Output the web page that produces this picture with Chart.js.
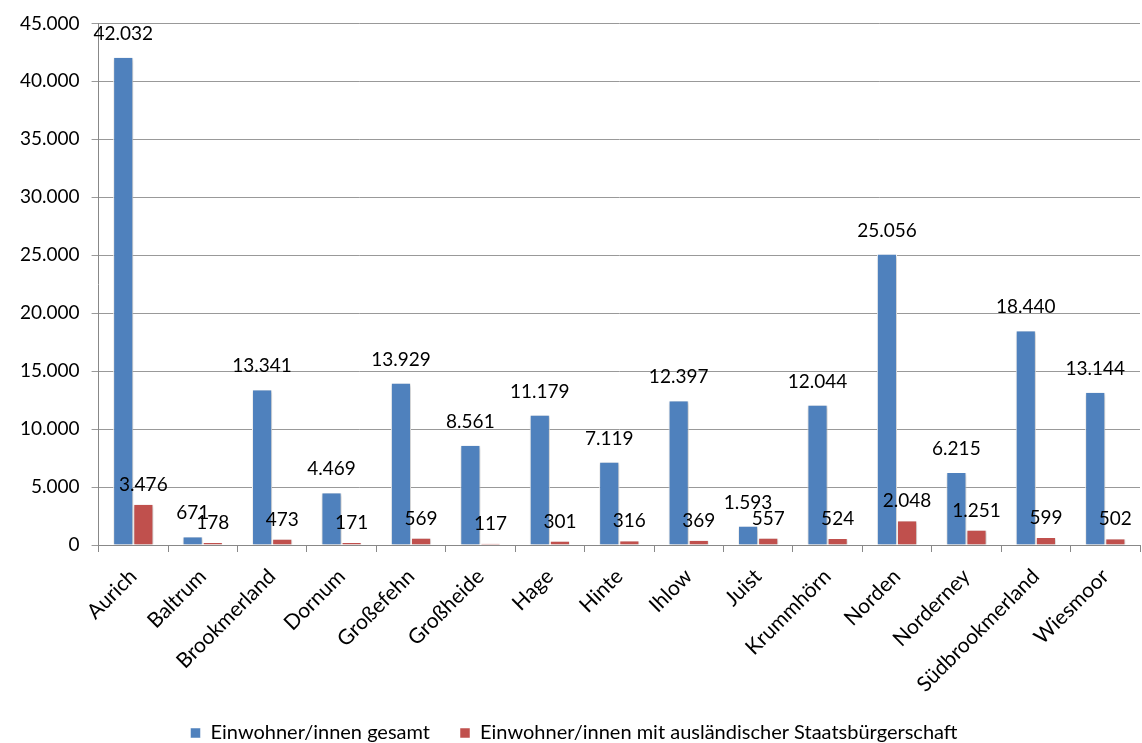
<!DOCTYPE html>
<html><head><meta charset="utf-8">
<script src="https://cdn.jsdelivr.net/npm/chart.js@4/dist/chart.umd.min.js"></script>
<style>html,body{margin:0;padding:0;background:#fff}#wrap{width:1142px;height:743px}</style>
</head><body><div id="wrap"><canvas id="c"></canvas></div>
<script>
const categories = ["Aurich","Baltrum","Brookmerland","Dornum","Großefehn","Großheide","Hage","Hinte","Ihlow","Juist","Krummhörn","Norden","Norderney","Südbrookmerland","Wiesmoor"];
const gesamt = [42032,671,13341,4469,13929,8561,11179,7119,12397,1593,12044,25056,6215,18440,13144];
const auslaendisch = [3476,178,473,171,569,117,301,316,369,557,524,2048,1251,599,502];
const yTicks = [0,5000,10000,15000,20000,25000,30000,35000,40000,45000];
const seriesNames = ["Einwohner/innen gesamt","Einwohner/innen mit ausländischer Staatsbürgerschaft"];

const FONT = "Lato, 'Open Sans', sans-serif";
function de(n){return String(n).replace(/\B(?=(\d{3})+(?!\d))/g,'.');}

const shadowPlugin = {
  id:'shadow',
  beforeDatasetsDraw(chart){const c=chart.ctx;c.save();c.shadowColor='rgba(0,0,0,0.28)';c.shadowBlur=4;c.shadowOffsetX=1;c.shadowOffsetY=1;},
  afterDatasetsDraw(chart){chart.ctx.restore();}
};
const labelPlugin = {
  id:'vlabels',
  afterDatasetsDraw(chart){
    const c=chart.ctx;c.save();
    c.font="19px "+FONT;c.fillStyle='#000';c.textAlign='center';c.textBaseline='middle';
    chart.data.datasets.forEach((ds,i)=>{
      const meta=chart.getDatasetMeta(i);
      const off = i===0?24:20;
      meta.data.forEach((bar,j)=>{c.fillText(de(ds.data[j]),bar.x,bar.y-off);});
    });
    c.restore();
  }
};

new Chart(document.getElementById('c'),{
  type:'bar',
  data:{labels:categories,datasets:[
    {label:seriesNames[0],data:gesamt,backgroundColor:'#4F81BD',borderColor:'#ffffff',borderWidth:{left:1,right:1,top:0,bottom:0},barPercentage:1,categoryPercentage:0.58},
    {label:seriesNames[1],data:auslaendisch,backgroundColor:'#C0504D',borderColor:'#ffffff',borderWidth:{left:1,right:1,top:0,bottom:0},barPercentage:1,categoryPercentage:0.58}
  ]},
  options:{
    responsive:true,maintainAspectRatio:false,animation:false,
    layout:{padding:{left:8,right:2,top:4,bottom:-10}},
    plugins:{
      legend:{position:'bottom',labels:{font:{family:FONT,size:20},color:'#000',boxWidth:10,boxHeight:10,padding:30,useBorderRadius:false}},
      tooltip:{enabled:false}
    },
    scales:{
      x:{afterFit(s){s.height=148;},
         grid:{display:true,drawOnChartArea:false,drawTicks:true,tickLength:7,color:'#888',offset:true},
         border:{color:'#888'},
         ticks:{font:{family:FONT,size:21},color:'#000',maxRotation:45,minRotation:45,padding:12}},
      y:{min:0,max:45000,afterBuildTicks(s){s.ticks=yTicks.map(v=>({value:v}));},
         grid:{color:'#999',drawTicks:true,tickLength:7},border:{color:'#888'},
         ticks:{font:{family:FONT,size:19},color:'#000',padding:12,callback:v=>de(v)}}
    }
  },
  plugins:[shadowPlugin,labelPlugin]
});
</script></body></html>
